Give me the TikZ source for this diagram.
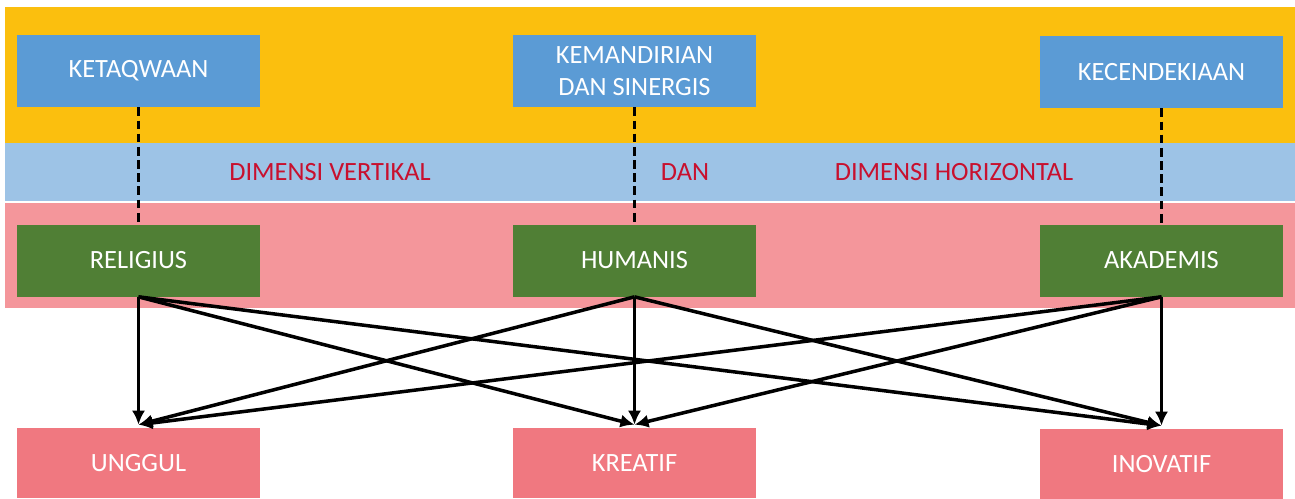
\documentclass[tikz,border=0pt]{standalone}
\usepackage{fontspec}
\setmainfont{Carlito}
\usetikzlibrary{arrows.meta}
\definecolor{bandyellow}{HTML}{FBBF0E}
\definecolor{bandblue}{HTML}{9DC3E6}
\definecolor{bandpink}{HTML}{F4969B}
\definecolor{boxblue}{HTML}{5B9BD5}
\definecolor{boxgreen}{HTML}{507F35}
\definecolor{boxpink}{HTML}{F07880}
\definecolor{labelred}{HTML}{C8102E}
\tikzset{
  box/.style={minimum width=4.86cm, minimum height=1.44cm, inner sep=0pt,
    text=white, align=center, font=\fontsize{15}{18}\selectfont},
  nilai/.style={box, fill=boxblue},
  sikap/.style={box, fill=boxgreen},
  hasil/.style={box, fill=boxpink, minimum height=1.4cm},
  dimensi/.style={text=labelred, font=\fontsize{15}{18}\selectfont},
  hubung/.style={line width=2.2pt, dash pattern=on 5pt off 2.5pt},
  panah/.style={-{Latex[length=8pt,width=7.5pt]}, line width=2pt}
}

\begin{document}
\begin{tikzpicture}[x=0.02cm,y=-0.02cm]
\useasboundingbox (0,0) rectangle (1295,498);
% background bands
\fill[bandyellow] (5,7) rectangle (1295,143);
\fill[bandblue] (5,143) rectangle (1295,201);
\fill[bandpink] (5,203) rectangle (1295,308);
\node[dimensi] (vert) at (330,172) {DIMENSI VERTIKAL};
\node[dimensi] (dan) at (685,172) {DAN};
\node[dimensi] (horz) at (954,172) {DIMENSI HORIZONTAL};
% top row
\node[nilai] (taqwa) at (138.5,71) {KETAQWAAN};
\node[nilai] (mandiri) at (634.5,71) {KEMANDIRIAN\\DAN SINERGIS};
\node[nilai] (cendekia) at (1161.5,72) {KECENDEKIAAN};
% middle row
\node[sikap] (rel) at (138.5,260.5) {RELIGIUS};
\node[sikap] (hum) at (634.5,260.5) {HUMANIS};
\node[sikap] (aka) at (1161.5,260.5) {AKADEMIS};
% bottom row
\node[hasil] (ung) at (138.5,463) {UNGGUL};
\node[hasil] (kre) at (634.5,463) {KREATIF};
\node[hasil] (ino) at (1161.5,464) {INOVATIF};
\draw[hubung] (taqwa) -- (rel);
\draw[hubung] (mandiri) -- (hum);
\draw[hubung] (cendekia) -- (aka);
\foreach \s in {rel,hum,aka}
  \foreach \t in {ung,kre,ino}
    \draw[panah] (\s.south) -- ([yshift=0.06cm]\t.north);
\end{tikzpicture}
\end{document}
